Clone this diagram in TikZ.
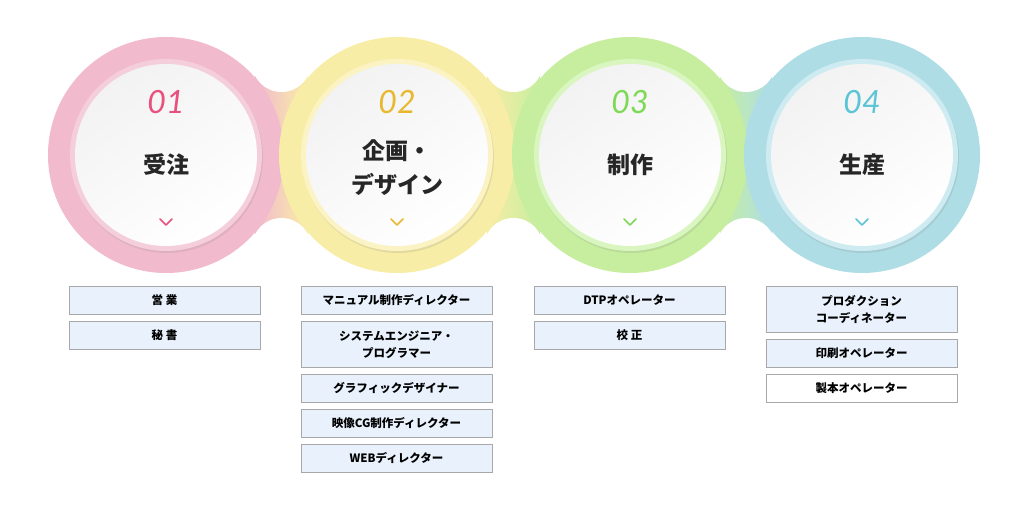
\documentclass[tikz,border=0pt]{standalone}
\usepackage{fontspec}
\newfontfamily\jp{Noto Sans CJK JP}
\newfontfamily\num{Lato}
\usetikzlibrary{shadows}
\definecolor{cA}{HTML}{F2BACD}\definecolor{cB}{HTML}{F8EDA6}\definecolor{cC}{HTML}{C6EE9E}\definecolor{cD}{HTML}{AEDDE6}
\definecolor{rA}{HTML}{F5CEDB}\definecolor{rB}{HTML}{FBF3C4}\definecolor{rC}{HTML}{D9F5C0}\definecolor{rD}{HTML}{CDEBF0}
\definecolor{nA}{HTML}{E8507E}\definecolor{nB}{HTML}{E8B830}\definecolor{nC}{HTML}{7ED957}\definecolor{nD}{HTML}{5BC4D6}
\definecolor{boxfill}{HTML}{E8F1FC}\definecolor{boxline}{HTML}{A8A8A8}
\tikzset{
 jobbox/.style={draw=boxline,line width=0.9pt,fill=boxfill,minimum width=191pt,anchor=north,inner sep=0pt,align=center,font=\jp\bfseries\fontsize{11.5}{17}\selectfont},
 numtxt/.style={font=\num\itshape\fontsize{32}{32}\selectfont},
 titletxt/.style={font=\jp\bfseries\fontsize{23}{34}\selectfont,align=center,text=black!85},
}
\begin{document}
\begin{tikzpicture}[x=1pt,y=-1pt]
\useasboundingbox (0,0) rectangle (1025,510);
\foreach \xa/\xb/\ca/\cb in {166/397/cA/cB,397/630/cB/cC,630/862/cC/cD}{
  \pgfmathsetmacro\mid{(\xa+\xb)/2}
  \shade[left color=\ca,right color=\cb] (\mid-26,62) rectangle (\mid+26,248);
  \fill[white] (\mid,62.3) circle (29.7);
  \fill[white] (\mid,247.7) circle (29.7);
}
\foreach \i/\x/\c/\r/\n in {1/166/cA/rA/nA,2/397/cB/rB/nB,3/630/cC/rC/nC,4/862/cD/rD/nD}{
  \fill[\c] (\x,155) circle (118);
  \fill[\r,drop shadow={opacity=0.18,shadow xshift=1pt,shadow yshift=-2pt}] (\x,155) circle (96);
  \shade[top color=black!5,bottom color=white,shading angle=35] (\x,155) circle (91);
  \draw[\n,line width=1.6pt,line cap=round,line join=round] (\x-6,219) -- (\x,225) -- (\x+6,219);
}
\node[numtxt,text=nA] (n1) at (166,102) {01};
\node[numtxt,text=nB] (n2) at (397,102) {02};
\node[numtxt,text=nC] (n3) at (630,102) {03};
\node[numtxt,text=nD] (n4) at (862,102) {04};
\node[titletxt] (t1) at (166,165) {受注};
\node[titletxt] (t2) at (397,168) {企画・\\デザイン};
\node[titletxt] (t3) at (630,165) {制作};
\node[titletxt] (t4) at (862,165) {生産};
\node[jobbox,minimum height=28pt] (a1) at (164.5,286) {営 業};
\node[jobbox,minimum height=28pt] (a2) at (164.5,321) {秘 書};
\node[jobbox,minimum height=28pt] (b1) at (396.5,286) {マニュアル制作ディレクター};
\node[jobbox,minimum height=46pt] (b2) at (396.5,321) {システムエンジニア・\\プログラマー};
\node[jobbox,minimum height=28pt] (b3) at (396.5,374) {グラフィックデザイナー};
\node[jobbox,minimum height=28pt] (b4) at (396.5,409) {映像CG制作ディレクター};
\node[jobbox,minimum height=28pt] (b5) at (396.5,444) {WEBディレクター};
\node[jobbox,minimum height=28pt] (c1) at (629.5,286) {DTPオペレーター};
\node[jobbox,minimum height=28pt] (c2) at (629.5,321) {校 正};
\node[jobbox,minimum height=46pt] (d1) at (861.5,286) {プロダクション\\コーディネーター};
\node[jobbox,minimum height=28pt] (d2) at (861.5,339) {印刷オペレーター};
\node[jobbox,minimum height=28pt,fill=white] (d3) at (861.5,374) {製本オペレーター};
\end{tikzpicture}
\end{document}
